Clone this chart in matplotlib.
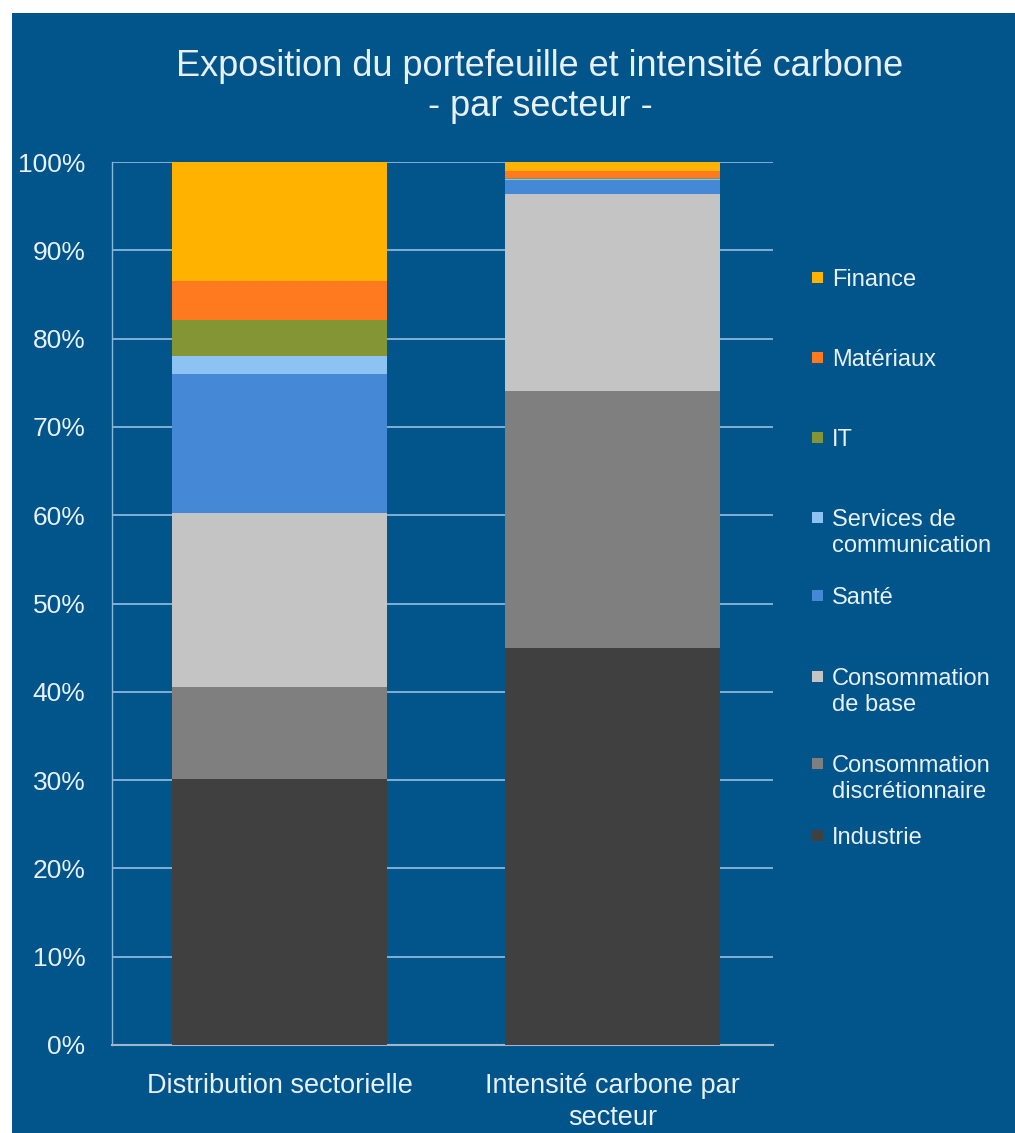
import matplotlib
matplotlib.use("Agg")
import matplotlib.pyplot as plt
from matplotlib.patches import Rectangle
import numpy as np

plt.rcParams['font.family'] = ['Liberation Sans', 'DejaVu Sans']

# data (percent of each bar), bottom to top
categories = ["Distribution sectorielle", "Intensité carbone par\nsecteur"]
sectors = ["Industrie", "Consommation\ndiscrétionnaire", "Consommation\nde base", "Santé",
           "Services de\ncommunication", "IT", "Matériaux", "Finance"]
industrie = [30.1, 45.0]
conso_discr = [10.4, 29.1]
conso_base = [19.7, 22.3]
sante = [15.8, 1.6]
services_comm = [2.0, 0.1]
it = [4.1, 0.1]
materiaux = [4.4, 0.8]
finance = [13.5, 1.0]

colors = ["#404040", "#7f7f7f", "#c4c4c4", "#4589d6", "#8dc3f2", "#849535", "#ff7a1f", "#ffb300"]
series = [industrie, conso_discr, conso_base, sante, services_comm, it, materiaux, finance]

W, H = 1015, 1133
BG = "#02558a"
TXT = "#e8f1fa"
GRID = "#8ab8de"

fig = plt.figure(figsize=(W / 100, H / 100), dpi=100, facecolor="white")
fig.patches.append(Rectangle((12 / W, 0), 1 - 12 / W, 1 - 13 / H, transform=fig.transFigure,
                             facecolor=BG, edgecolor="none", zorder=-10))

ax = fig.add_axes([112 / W, 1 - 1045 / H, 661 / W, 883 / H])
ax.set_facecolor("none")

x = np.arange(len(categories))
bottom = np.zeros(len(categories))
for vals, col, name in zip(series, colors, sectors):
    ax.bar(x, vals, width=0.645, bottom=bottom, color=col, label=name, zorder=3)
    bottom += np.array(vals)

ax.set_xlim(-0.503, 1.482)
ax.set_ylim(0, 100)
ax.set_yticks(np.arange(0, 101, 10))
ax.set_yticklabels([f"{v}%" for v in range(0, 101, 10)])
ax.set_xticks(x)
ax.set_xticklabels(categories)
for lab in ax.get_xticklabels():
    lab.set_linespacing(1.3)
ax.tick_params(axis="y", length=0, pad=19, labelsize=19, labelcolor=TXT)
ax.tick_params(axis="x", length=0, pad=20, labelsize=19.5, labelcolor=TXT)
ax.grid(axis="y", color=GRID, linewidth=1.3, zorder=0)
for s in ["top", "right"]:
    ax.spines[s].set_visible(False)
ax.spines["left"].set_color(GRID)
ax.spines["left"].set_linewidth(1.0)
ax.spines["bottom"].set_color("#9fb6cc")
ax.spines["bottom"].set_linewidth(1.5)

fig.text(540 / W, 1 - 67 / H, "Exposition du portefeuille et intensité carbone",
         ha="center", va="center", fontsize=26, color=TXT)
fig.text(540 / W, 1 - 107 / H, "- par secteur -", ha="center", va="center", fontsize=26, color=TXT)

# legend drawn by hand to keep markers on the first text line, top entry = last series
leg_y = [835, 763, 676, 595, 517, 437, 357, 277]
for name, col, yy in zip(sectors, colors, leg_y):
    fig.patches.append(Rectangle((812 / W, 1 - (yy + 6) / H), 11 / W, 11 / H,
                                 transform=fig.transFigure, facecolor=col, edgecolor="none"))
    fig.text(832 / W, 1 - (yy - 8) / H, name, ha="left", va="top", fontsize=17,
             color=TXT, linespacing=1.25)

fig.savefig("out.png", dpi=100, facecolor="white")
